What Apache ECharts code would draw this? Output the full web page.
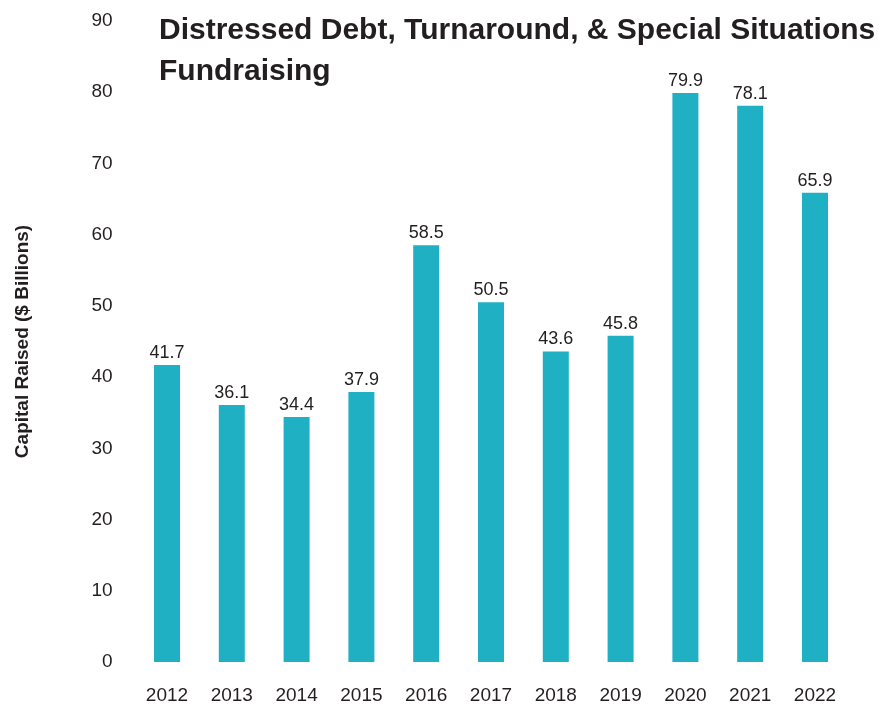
<!DOCTYPE html>
<html><head><meta charset="utf-8">
<script src="https://cdn.jsdelivr.net/npm/echarts@6/dist/echarts.min.js"></script>
<style>html,body{margin:0;padding:0;background:#fff}#c{width:879px;height:705px}</style>
</head><body><div id="c"></div>
<script>
const categories = ['2012','2013','2014','2015','2016','2017','2018','2019','2020','2021','2022'];
const capitalRaised = [41.7, 36.1, 34.4, 37.9, 58.5, 50.5, 43.6, 45.8, 79.9, 78.1, 65.9];
const yTicks = {min: 0, max: 90, interval: 10};
const titleText = 'Distressed Debt, Turnaround, & Special Situations\nFundraising';
const yAxisTitle = 'Capital Raised ($ Billions)';

const FF = 'Liberation Sans, Arial, sans-serif';
const chart = echarts.init(document.getElementById('c'), null, {renderer: 'canvas'});
chart.setOption({
  animation: false,
  backgroundColor: '#fff',
  title: {
    text: titleText,
    left: 154, top: 5,
    textStyle: {fontFamily: FF, fontWeight: 'bold', fontSize: 30, color: '#231f20', lineHeight: 41}
  },
  grid: {left: 134.6, right: 31.6, top: 21, bottom: 43, containLabel: false},
  xAxis: {
    type: 'category', data: categories,
    axisLine: {show: false}, axisTick: {show: false},
    axisLabel: {fontFamily: FF, fontSize: 19, color: '#231f20', margin: 24}
  },
  yAxis: {
    type: 'value', min: yTicks.min, max: yTicks.max, interval: yTicks.interval,
    splitLine: {show: false}, axisLine: {show: false}, axisTick: {show: false},
    axisLabel: {fontFamily: FF, fontSize: 19, color: '#231f20', margin: 22},
    name: yAxisTitle, nameLocation: 'middle', nameGap: 102, nameRotate: 90,
    nameTextStyle: {fontFamily: FF, fontWeight: 'bold', fontSize: 19, color: '#231f20'}
  },
  series: [{
    type: 'bar', data: capitalRaised, barWidth: 26,
    itemStyle: {color: '#1fb0c4'},
    label: {show: true, position: 'top', distance: 3, fontFamily: FF, fontSize: 18, color: '#231f20',
      formatter: p => p.value.toFixed(1)}
  }]
});
</script></body></html>
